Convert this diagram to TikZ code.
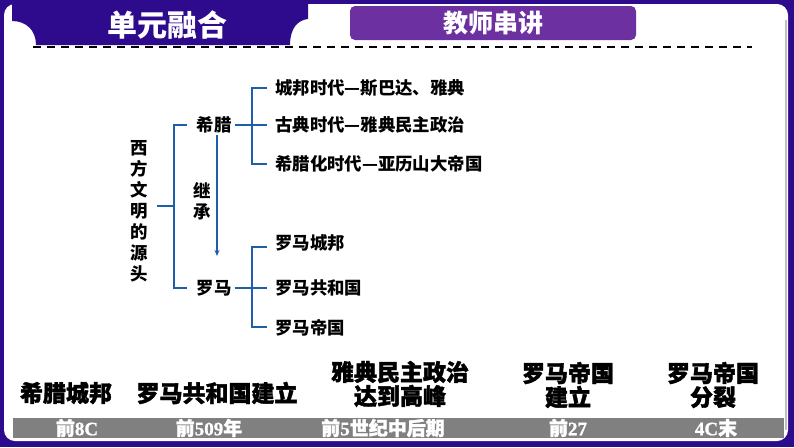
\documentclass[tikz,border=0pt]{standalone}
\usepackage{fontspec}
\usetikzlibrary{arrows.meta}
\newfontfamily\cjk{Noto Sans CJK SC}
\newfontfamily\cjkh{Noto Sans CJK SC}[BoldFeatures={FakeBold=1.6}]
\newfontfamily\tserif{Liberation Serif}[BoldFeatures={FakeBold=1}]
\definecolor{deep}{RGB}{46,10,140}
\definecolor{btn}{RGB}{108,48,160}
\definecolor{treeblue}{RGB}{30,95,170}
\definecolor{bargrey}{RGB}{128,128,128}
\tikzset{
  tree/.style={draw=treeblue,line width=1.3pt},
  ttext/.style={inner sep=0pt,anchor=west,font=\cjk\bfseries\fontsize{17.4}{21}\selectfont},
  mtext/.style={inner sep=0pt,font=\cjk\bfseries\fontsize{17.4}{21}\selectfont},
  event/.style={inner sep=0pt,align=center,font=\cjkh\bfseries\fontsize{23}{24}\selectfont},
  date/.style={inner sep=0pt,text=white,font=\cjkh\bfseries\fontsize{19}{20}\selectfont},
}
\newcommand{\dg}[1]{{\tserif\bfseries #1}}
\begin{document}
\begin{tikzpicture}[x=1pt,y=-1pt]
\useasboundingbox (0,0) rectangle (794,447);
% frame
\fill[deep] (0,0) rectangle (794,447);
\fill[white,rounded corners=11pt] (4,4) rectangle (788,441);
\draw[black!25,line width=1.2pt] (786,20) -- (786,430);
% title tab
\fill[deep] (12,0) -- (308,0) -- (308,19) .. controls (298,20) and (290,28) .. (290,45)
  -- (36,45) .. controls (36,30) and (26,21) .. (12,21) -- cycle;
\node[text=white,font=\cjk\bfseries\fontsize{30}{32}\selectfont] (title) at (167,25) {单元融合};
% button
\node[fill=btn,rounded corners=5pt,minimum width=286pt,minimum height=34pt,inner sep=0pt,
  text=white,font=\cjk\bfseries\fontsize{25}{27}\selectfont] (btn) at (493,23) {教师串讲};
\coordinate (dl) at (33,47); \coordinate (dr) at (752,47);
\draw[black,line width=1.5pt,dash pattern=on 8pt off 6pt] (dl) -- (dr);
% tree
\node[mtext,align=center] (root) at (139,211) {西\\方\\文\\明\\的\\源\\头};
\node[mtext] (gr) at (214,125) {希腊};
\node[mtext] (ro) at (214,288) {罗马};
\node[ttext] (g1) at (275,88) {城邦时代—斯巴达、雅典};
\node[ttext] (g2) at (275,125) {古典时代—雅典民主政治};
\node[ttext] (g3) at (275,164) {希腊化时代—亚历山大帝国};
\node[ttext] (r1) at (275,243) {罗马城邦};
\node[ttext] (r2) at (275,288) {罗马共和国};
\node[ttext] (r3) at (275,328) {罗马帝国};
\node[mtext,align=center] (inh) at (202,201) {继\\承};
\coordinate (a) at (157,206); \coordinate (b) at (174,206);
\draw[tree] (a) -- (b);
\draw[tree] ([xshift=-9pt]gr.west) -- (174,125) -- (174,288) -- ([xshift=-9pt]ro.west);
\draw[tree] ([xshift=3pt]gr.east) -- (267,125);
\draw[tree] (267,88) -- (252,88) -- (252,164) -- (267,164);
\draw[tree] ([xshift=3pt]ro.east) -- (267,288);
\draw[tree] (267,247) -- (252,247) -- (252,327) -- (267,327);
\coordinate (ar1) at (217,135); \coordinate (ar2) at (217,256);
\draw[draw=treeblue,line width=1.2pt,-{Stealth[length=6pt,width=5pt]}] (ar1) -- (ar2);
% timeline
\fill[bargrey] (13,418) rectangle (784,438);
\node[event] (e1) at (66,393) {希腊城邦};
\node[event] (e2) at (217,393) {罗马共和国建立};
\node[event] (e3) at (400,384) {雅典民主政治\\达到高峰};
\node[event] (e4) at (568,385) {罗马帝国\\建立};
\node[event] (e5) at (713,385) {罗马帝国\\分裂};
\node[date] (d1) at (77,428) {前\dg{8C}};
\node[date] (d2) at (209,428) {前\dg{509}年};
\node[date] (d3) at (383,428) {前\dg{5}世纪中后期};
\node[date] (d4) at (568,428) {前\dg{27}};
\node[date] (d5) at (716,428) {\dg{4C}末};
\end{tikzpicture}
\end{document}
